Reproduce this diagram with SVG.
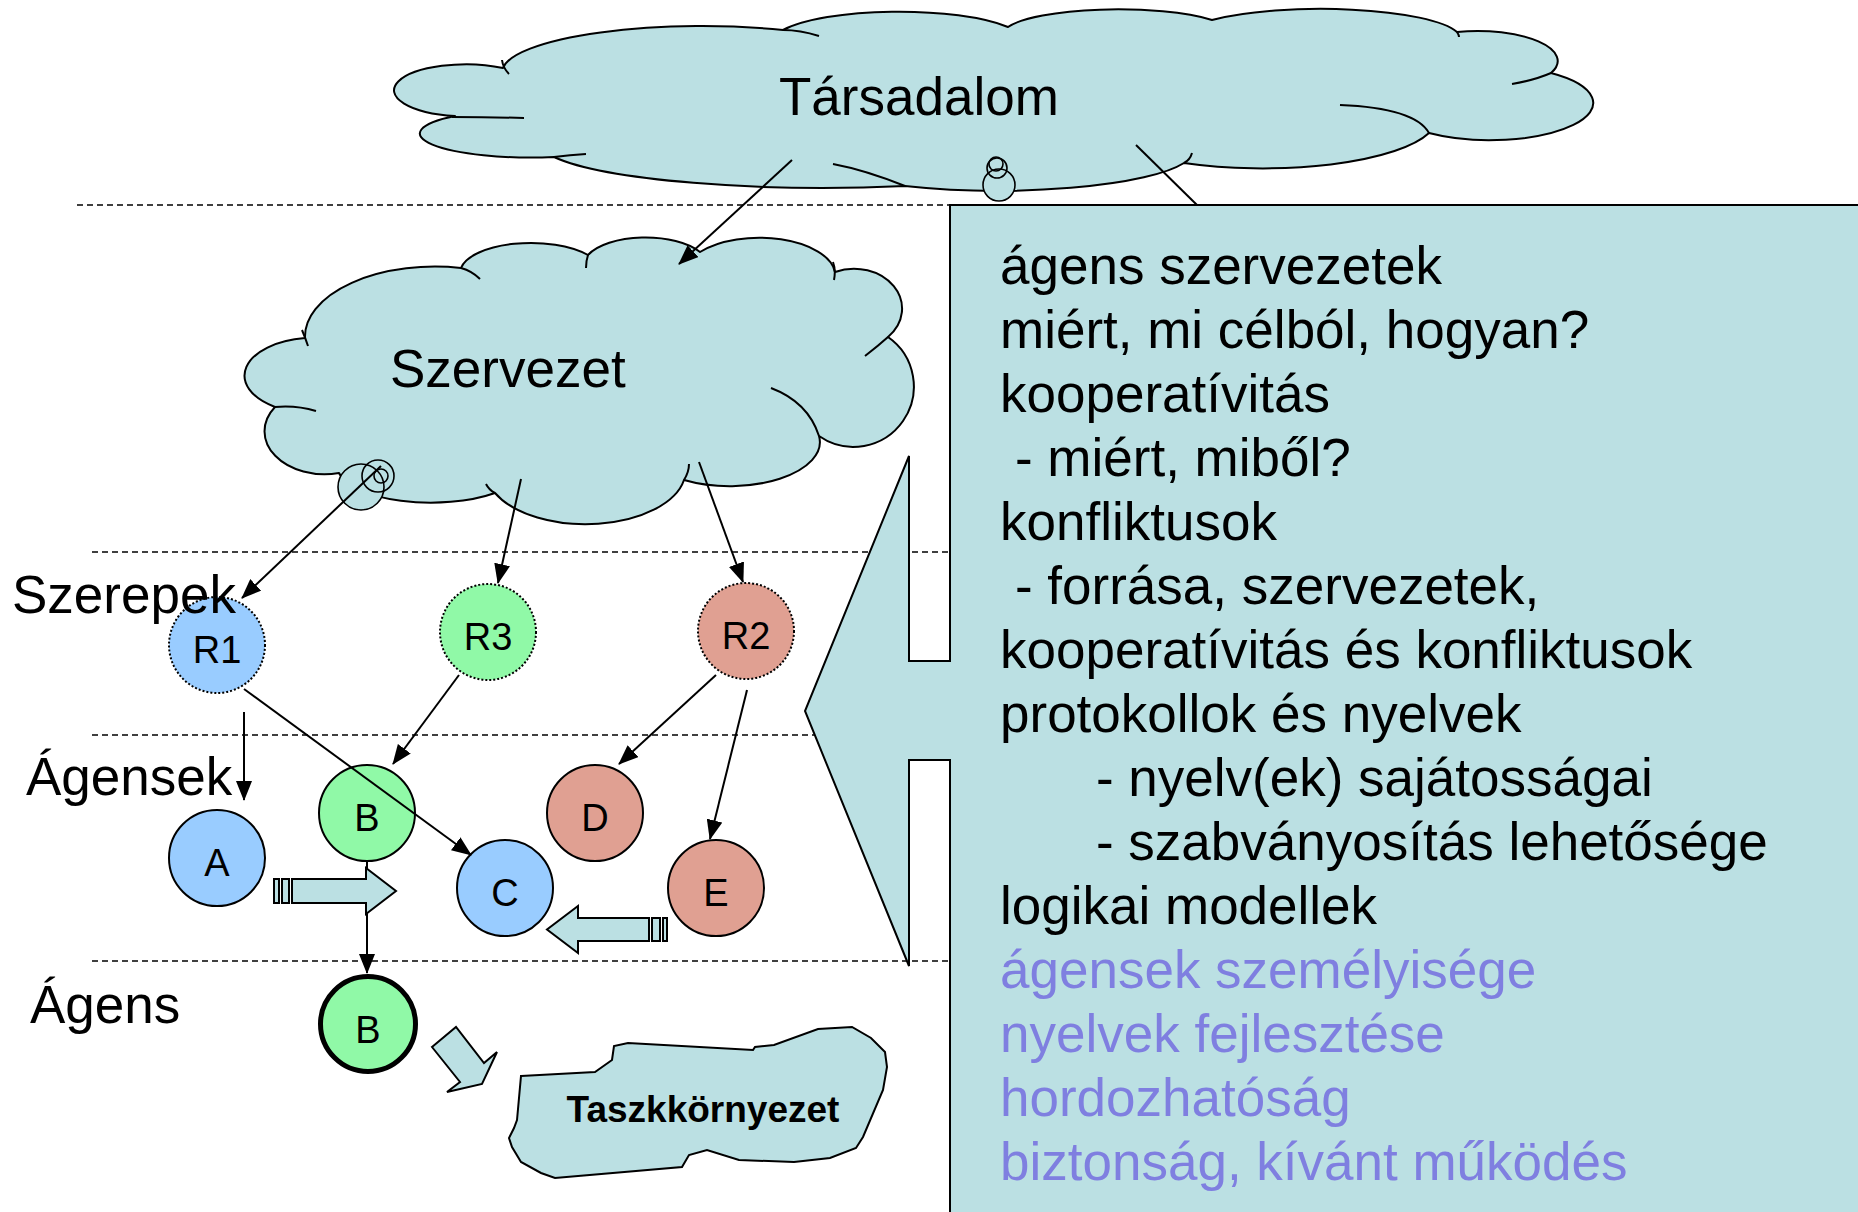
<svg xmlns="http://www.w3.org/2000/svg" width="1858" height="1212" viewBox="0 0 1858 1212">
<defs>
<style>
.cloud{fill:#BBE0E3;stroke:#000;stroke-width:2;stroke-linejoin:round}
.inner{fill:none;stroke:#000;stroke-width:2}
.bub{fill:#BBE0E3;stroke:#000;stroke-width:1.6}
.bubo{fill:none;stroke:#000;stroke-width:1.6}
.guide{stroke:#000;stroke-width:1.5;stroke-dasharray:6 4;fill:none}
.conn{stroke:#000;stroke-width:2;fill:none}
.arr{marker-end:url(#ah)}
.blk{fill:#BBE0E3;stroke:#000;stroke-width:2}
.t{font-family:"Liberation Sans",Arial,sans-serif;fill:#000}
.big{font-size:53px}
.lbl{font-size:38px;text-anchor:middle}
.role{stroke:#000;stroke-width:2;stroke-dasharray:2 2}
.agent{stroke:#000;stroke-width:2}
.blue{fill:#99CCFF}
.green{fill:#90F9A7}
.red{fill:#E0A092}
.purple{fill:#7F7FE0}
</style>
<marker id="ah" viewBox="0 0 20 16" refX="19" refY="8" markerWidth="20" markerHeight="16" markerUnits="userSpaceOnUse" orient="auto"><path d="M0,0 L20,8 L0,16 Z" fill="#000"/></marker>
</defs>
<rect x="0" y="0" width="1858" height="1212" fill="#fff"/>

<g id="guides">
<line class="guide" x1="77" y1="205" x2="950" y2="205"/>
<line class="guide" x1="92" y1="552" x2="950" y2="552"/>
<line class="guide" x1="92" y1="735" x2="950" y2="735"/>
<line class="guide" x1="92" y1="961" x2="950" y2="961"/>
</g>

<g id="tarsadalom">
<path class="cloud" d="M503,68 A200,46 0 0 1 783,30 A128,32 0 0 1 1008,27 A115,25 0 0 1 1212,20 A140,30 0 0 1 1457,32 A80,30 0 0 1 1551,73 A100,36 0 0 1 1429,133 A174,50 0 0 1 1184,163 A196,40 0 0 1 905,186 A286,46 0 0 1 554,157 A111,24 0 0 1 455,116 A72,26 0 1 1 503,68 Z"/>
<path class="inner" d="M502,60 Q503,68 509,74 M783,30 Q800,30 819,36 M1551,73 Q1535,80 1512,84 M1340,105 Q1415,108 1429,133 M1184,163 Q1190,160 1192,153 M833,164 Q865,170 905,186 M554,157 Q570,155 586,154 M452,117 Q490,117 524,118 M1457,32 Q1459,35 1459,37"/>
<circle class="bub" cx="999" cy="185" r="16"/>
<circle class="bubo" cx="997" cy="168" r="10"/>
<circle class="bubo" cx="996" cy="164" r="7"/>
<text class="t big" x="779" y="115">Társadalom</text>
</g>

<g id="szervezet">
<path class="cloud" d="M305,338 A130,70 0 0 1 461,268 A71,30 0 0 1 588,255 A62,28 0 0 1 700,252 A76,38 0 0 1 835,272 A48,40 0 0 1 888,337 A60,60 0 0 1 819,436 A90,44 0 0 1 684,480 A100,54 0 0 1 495,493 A93,35 0 0 1 339,473 A60,43 0 0 1 275,407 A70,38 0 0 1 305,338 Z"/>
<path class="inner" d="M302,330 Q305,337 308,346 M461,268 Q472,271 480,279 M588,255 Q586,261 586,268 M833,262 Q836,270 834,280 M888,337 Q878,346 865,356 M771,388 Q808,402 819,436 M684,480 Q689,472 689,464 M495,493 Q489,490 486,484 M275,407 Q296,405 316,411"/>
<circle class="bub" cx="361" cy="487" r="23"/>
<circle class="bubo" cx="378" cy="476" r="16"/>
<circle class="bubo" cx="381" cy="476" r="7"/>
<text class="t big" x="390" y="387">Szervezet</text>
</g>

<g id="callout">
<path d="M950,205 L1870,205 L1870,1225 L950,1225 L950,760 L909,760 L909,966 L805,711 L909,456 L909,661 L950,661 Z" fill="#BBE0E3" stroke="#000" stroke-width="2"/>
<g class="t big">
<text x="1000" y="284">ágens szervezetek</text>
<text x="1000" y="348">miért, mi célból, hogyan?</text>
<text x="1000" y="412">kooperatívitás</text>
<text x="1015" y="476">- miért, miből?</text>
<text x="1000" y="540">konfliktusok</text>
<text x="1015" y="604">- forrása, szervezetek,</text>
<text x="1000" y="668">kooperatívitás és konfliktusok</text>
<text x="1000" y="732">protokollok és nyelvek</text>
<text x="1096" y="796">- nyelv(ek) sajátosságai</text>
<text x="1096" y="860">- szabványosítás lehetősége</text>
<text x="1000" y="924">logikai modellek</text>
<text x="1000" y="988" class="purple">ágensek személyisége</text>
<text x="1000" y="1052" class="purple">nyelvek fejlesztése</text>
<text x="1000" y="1116" class="purple">hordozhatóság</text>
<text x="1000" y="1180" class="purple">biztonság, kívánt működés</text>
</g>
</g>

<g id="taszkkornyezet">
<path class="blk" d="M521,1076 L595,1072 L612,1060 L614,1046 L628,1043 L753,1050 L755,1047 L774,1045 L818,1029 L852,1027 L871,1038 L885,1052 L887,1067 L883,1090 L863,1137 L856,1148 L830,1158 L794,1162 L739,1160 L707,1150 L689,1155 L682,1167 L555,1178 L541,1173 L521,1162 L512,1147 L509,1138 L514,1128 L517,1120 Z"/>
<text class="t" x="703" y="1122" font-size="37" font-weight="bold" text-anchor="middle">Taszkkörnyezet</text>
</g>

<g id="node-R1"><circle class="blue role" cx="217" cy="645" r="48"/><text class="t lbl" x="217" y="663">R1</text></g>
<g id="node-R3"><circle class="green role" cx="488" cy="632" r="48"/><text class="t lbl" x="488" y="650">R3</text></g>
<g id="node-R2"><circle class="red role" cx="746" cy="631" r="48"/><text class="t lbl" x="746" y="649">R2</text></g>
<g id="node-A"><circle class="blue agent" cx="217" cy="858" r="48"/><text class="t lbl" x="217" y="876">A</text></g>
<g id="node-B"><circle class="green agent" cx="367" cy="813" r="48"/><text class="t lbl" x="367" y="831">B</text></g>
<g id="node-C"><circle class="blue agent" cx="505" cy="888" r="48"/><text class="t lbl" x="505" y="906">C</text></g>
<g id="node-D"><circle class="red agent" cx="595" cy="813" r="48"/><text class="t lbl" x="595" y="831">D</text></g>
<g id="node-E"><circle class="red agent" cx="716" cy="888" r="48"/><text class="t lbl" x="716" y="906">E</text></g>
<g id="node-B-agens"><circle class="green" cx="368" cy="1024" r="47.5" stroke="#000" stroke-width="5"/><text class="t lbl" x="368" y="1043">B</text></g>

<g id="connectors">
<line class="conn" x1="1136" y1="145" x2="1197" y2="205"/>
<line class="conn arr" x1="792" y1="160" x2="679" y2="264"/>
<line class="conn arr" x1="381" y1="466" x2="242" y2="598"/>
<line class="conn arr" x1="521" y1="479" x2="498" y2="583"/>
<line class="conn arr" x1="699" y1="462" x2="743" y2="582"/>
<line class="conn arr" x1="244" y1="712" x2="244" y2="800"/>
<line class="conn arr" x1="244" y1="689" x2="471" y2="855"/>
<line class="conn arr" x1="459" y1="675" x2="393" y2="764"/>
<line class="conn arr" x1="716" y1="675" x2="619" y2="764"/>
<line class="conn arr" x1="747" y1="690" x2="710" y2="839"/>
<line class="conn arr" x1="367" y1="862" x2="367" y2="973"/>
</g>

<g id="block-arrows">
<rect class="blk" x="274" y="879" width="5" height="24"/>
<rect class="blk" x="282" y="879" width="7" height="24"/>
<path class="blk" d="M292,879 L366,879 L366,868 L396,891 L366,914 L366,903 L292,903 Z"/>
<rect class="blk" x="663" y="918" width="4" height="23"/>
<rect class="blk" x="652" y="918" width="8" height="23"/>
<path class="blk" d="M649,918 L578,918 L578,906 L547,929.5 L578,953 L578,941 L649,941 Z"/>
<path class="blk" d="M432,1047 L456,1027 L484,1063 L497,1052 L482,1084 L447,1092 L460,1082 Z"/>
</g>

<g id="labels" class="t big">
<text x="12" y="613">Szerepek</text>
<text x="26" y="795">Ágensek</text>
<text x="30" y="1023">Ágens</text>
</g>
</svg>
